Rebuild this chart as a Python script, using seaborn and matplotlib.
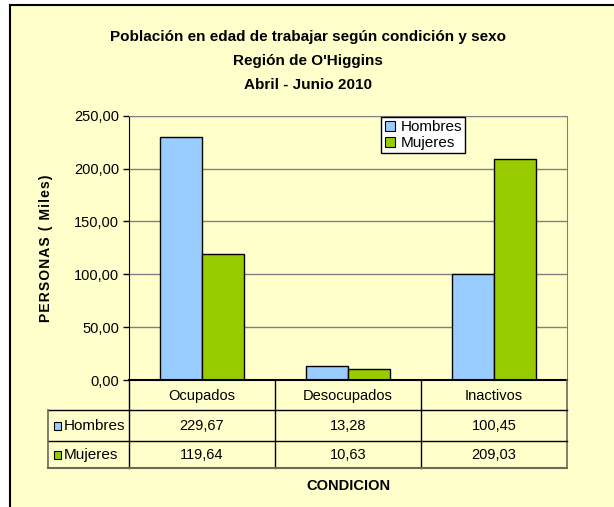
import numpy as np
import pandas as pd
import seaborn as sns
import matplotlib.pyplot as plt
from matplotlib.patches import Rectangle
from matplotlib.lines import Line2D

# Datos
categorias = ['Ocupados', 'Desocupados', 'Inactivos']
hombres = [229.67, 13.28, 100.45]
mujeres = [119.64, 10.63, 209.03]
sexos = ['Hombres', 'Mujeres']
colores = ['#99CCFF', '#99CC00']
yticks = [0, 50, 100, 150, 200, 250]

df = pd.DataFrame({
    'condicion': categorias * 2,
    'sexo': ['Hombres'] * 3 + ['Mujeres'] * 3,
    'valor': hombres + mujeres,
})

plt.rcParams['font.family'] = ['Liberation Sans', 'DejaVu Sans']

W, H = 614, 507
fig = plt.figure(figsize=(W / 100, H / 100), dpi=100)
fig.patch.set_facecolor('white')
fondo = '#FFFFCC'
fig.patches.append(Rectangle((10 / W, -0.1), 1.0, 1.1 - 5 / H, transform=fig.transFigure,
                             facecolor=fondo, edgecolor='black', lw=1.5, zorder=-10))

def fx(px):
    return px / W

def fy(py):
    return 1 - py / H

# Área de gráfico
L, R, T, B = 129, 567, 115.7, 380
ax = fig.add_axes([fx(L), fy(B), fx(R - L), (B - T) / H])
ax.set_facecolor(fondo)
sns.barplot(data=df, x='condicion', y='valor', hue='sexo', palette=colores,
            width=0.575, edgecolor='black', linewidth=1, saturation=1,
            legend=False, ax=ax)
ax.set_xlim(-0.5, 2.5)
ax.set_ylim(0, 250)
ax.set_yticks(yticks)
ax.set_yticklabels([f'{v:.2f}'.replace('.', ',') for v in yticks], fontsize=10.5)
ax.tick_params(axis='y', length=4, width=1, pad=3)
ax.set_xticks([])
ax.set_xlabel('')
ax.grid(axis='y', color='#808080', lw=1)
ax.set_axisbelow(True)
for s in ['top', 'right']:
    ax.spines[s].set_color('#808080')
ax.spines['left'].set_color('black')
ax.spines['bottom'].set_color('black')
ax.spines['bottom'].set_linewidth(1.5)
etiqueta_y = '\u200a'.join('PERSONAS ( Miles)')
ax.set_ylabel(etiqueta_y, fontweight='bold', fontsize=10)
ax.yaxis.set_label_coords(-0.174, 0.5)

# Leyenda
handles = [Line2D([], [], marker='s', ls='', markersize=7, markerfacecolor=c,
                  markeredgecolor='black', markeredgewidth=0.8) for c in colores]
fig.legend(handles, sexos, loc='upper left', bbox_to_anchor=(fx(381), fy(117)),
           frameon=True, fancybox=False, edgecolor='black', facecolor='white',
           framealpha=1, fontsize=11, handlelength=0.8, handletextpad=0.3,
           borderpad=0.2, labelspacing=0.15, borderaxespad=0)

# Tabla de datos
tab = fig.add_axes([0, 0, 1, 1], facecolor='none')
tab.set_xlim(0, W)
tab.set_ylim(H, 0)
tab.axis('off')
cols = [129, 275, 421, 567]
rows = [380, 410, 441, 468]
for x in cols[1:-1]:
    tab.plot([x, x], [380, 468], color='black', lw=1)
tab.plot([129, 129], [380, 468], color='black', lw=1)
tab.plot([567, 567], [380, 468], color='#6b6b5a', lw=1.2)
tab.plot([48, 567], [410, 410], color='black', lw=1)
tab.plot([48, 567], [441, 441], color='black', lw=1)
tab.plot([48, 567], [468, 468], color='#6b6b5a', lw=1.5)
tab.plot([48, 48], [410, 468], color='#6b6b5a', lw=1.2)

centros = [(cols[i] + cols[i + 1]) / 2 for i in range(3)]
for c, cat in zip(centros, categorias):
    tab.text(c, 396, cat, ha='center', va='center', fontsize=10.5)
for r, (nombre, serie, col) in enumerate(zip(sexos, [hombres, mujeres], colores)):
    yc = (rows[r + 1] + rows[r + 2]) / 2
    tab.add_patch(Rectangle((54, yc - 3.5), 7, 8, facecolor=col, edgecolor='black', lw=0.8))
    tab.text(64, yc + 0.5, nombre, ha='left', va='center', fontsize=11)
    for c, v in zip(centros, serie):
        tab.text(c, yc + 0.5, f'{v:.2f}'.replace('.', ','), ha='center', va='center', fontsize=10.5)

tab.text(348, 486, 'CONDICION', ha='center', va='center', fontsize=10.5, fontweight='bold')

# Título
titulo = ['Población en edad de trabajar según condición y sexo',
          "Región de O'Higgins", 'Abril - Junio 2010']
for i, t in enumerate(titulo):
    tab.text(308, 37 + 24 * i, t, ha='center', va='center', fontsize=11, fontweight='bold')

fig.savefig('out.png', dpi=100, facecolor=fig.get_facecolor())
